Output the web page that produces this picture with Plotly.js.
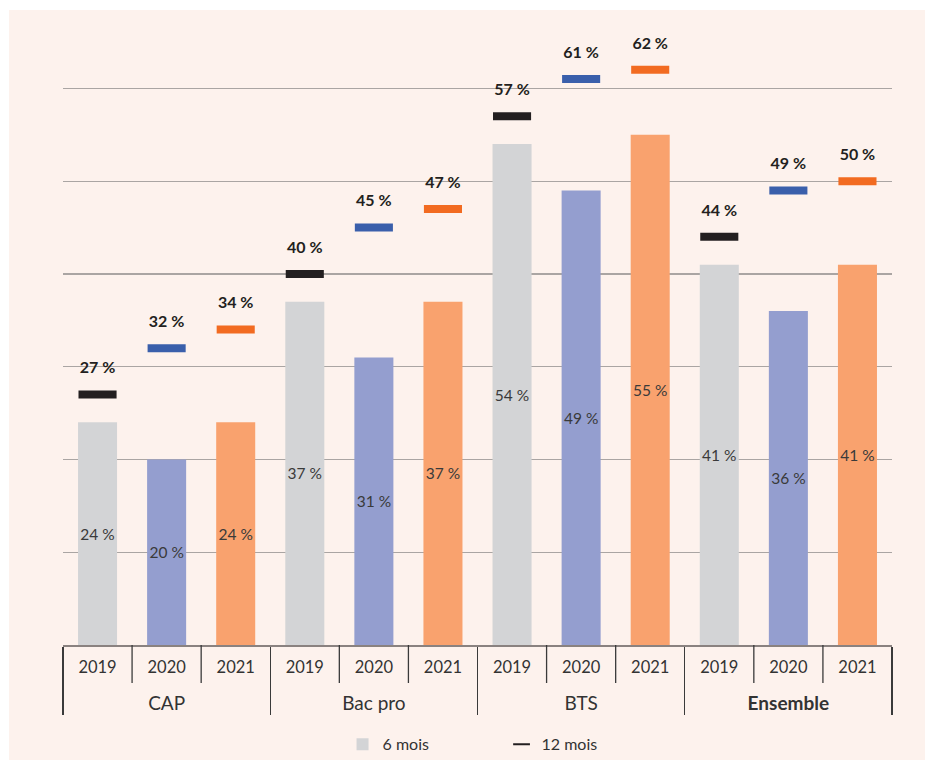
<!DOCTYPE html>
<html>
<head>
<meta charset="utf-8">
<script src="https://cdn.plot.ly/plotly-3.0.1.min.js"></script>
<style>
  html, body { margin: 0; padding: 0; background: #ffffff; }
  #chart { position: absolute; left: 9px; top: 10px; width: 916px; height: 750px; }
</style>
</head>
<body>
<div id="chart"></div>
<script>
// ---- Data ----
var groups = ['CAP', 'Bac pro', 'BTS', 'Ensemble'];
var groupLabels = ['CAP', 'Bac pro', 'BTS', '<b>Ensemble</b>'];
var years = ['2019', '2020', '2021'];
var sixMonths = {
  'CAP': [24, 20, 24],
  'Bac pro': [37, 31, 37],
  'BTS': [54, 49, 55],
  'Ensemble': [41, 36, 41]
};
var twelveMonths = {
  'CAP': [27, 32, 34],
  'Bac pro': [40, 45, 47],
  'BTS': [57, 61, 62],
  'Ensemble': [44, 49, 50]
};
var barColors = ['#d3d4d6', '#949ecf', '#f9a26e'];
var dashColors = ['#231f20', '#3a5fab', '#f26b21'];
var seriesNames = ['6 mois', '12 mois'];

// ---- Build flat arrays ----
var xGroup = [], xYear = [], y6 = [], y12 = [], c6 = [], c12 = [], t6 = [], t12 = [];
groups.forEach(function (g, gi) {
  years.forEach(function (yr, i) {
    xGroup.push('<br><span style="font-size:19px">' + groupLabels[gi] + '</span>'); xYear.push(yr);
    y6.push(sixMonths[g][i]); y12.push(twelveMonths[g][i]);
    c6.push(barColors[i]); c12.push(dashColors[i]);
    t6.push(sixMonths[g][i] + ' %'); t12.push('<b>' + twelveMonths[g][i] + ' %</b>');
  });
});
var nCat = xGroup.length;

// year separators (within groups) below the axis
var shapes = [];
for (var k = 0; k < nCat - 1; k++) {
  if ((k + 1) % years.length === 0) continue; // group boundaries use dividers
  shapes.push({
    type: 'line', xref: 'x', yref: 'paper', x0: k + 0.5, x1: k + 0.5, y0: 0, y1: -0.063,
    line: { color: '#3a3a3a', width: 1.3 }
  });
}

var FONT = 'Lato, "Open Sans", sans-serif';

var traces = [
  {
    type: 'bar', name: seriesNames[0],
    x: [xGroup, xYear], y: y6,
    marker: { color: c6 },
    text: t6, textposition: 'inside', insidetextanchor: 'middle', textangle: 0,
    constraintext: 'none',
    textfont: { family: FONT, size: 15.5, color: '#3a3a3a' },
    hoverinfo: 'skip'
  },
  {
    type: 'scatter', mode: 'markers', name: seriesNames[1],
    x: [xGroup, xYear], y: y12,
    marker: { symbol: 'line-ew', size: 27.2, color: c12, line: { color: c12, width: 8 } },
    cliponaxis: false,
    hoverinfo: 'skip'
  },
  {
    type: 'scatter', mode: 'markers+text', showlegend: false,
    x: [xGroup, xYear], y: y12,
    marker: { size: 26, color: 'rgba(0,0,0,0)' },
    text: t12, textposition: 'top center', cliponaxis: false,
    textfont: { family: FONT, size: 16, color: '#231f20' },
    hoverinfo: 'skip'
  }
];

var layout = {
  width: 916, height: 750,
  paper_bgcolor: '#fdf2ed', plot_bgcolor: '#fdf2ed',
  margin: { l: 54, r: 33, t: 32, b: 115, autoexpand: false },
  font: { family: FONT, color: '#333333' },
  bargap: 0.435,
  showlegend: true,
  shapes: shapes,
  legend: {
    orientation: 'h', x: 0.529, xanchor: 'center',
    yref: 'container', y: 0.021, yanchor: 'middle',
    font: { family: FONT, size: 16, color: '#333333' },
    itemsizing: 'constant',
    bgcolor: 'rgba(0,0,0,0)', entrywidth: 114
  },
  xaxis: {
    type: 'multicategory', range: [-0.5, nCat - 0.5],
    showline: true, linecolor: '#8a8280', linewidth: 1.5,
    ticks: '', ticklabelstandoff: 7,
    showdividers: true, dividercolor: '#3a3a3a', dividerwidth: 1.3,
    tickfont: { family: FONT, size: 16.5, color: '#333333' },
    showgrid: false, zeroline: false, fixedrange: true
  },
  yaxis: {
    range: [0, 65], tickvals: [10, 20, 30, 40, 50, 60],
    showticklabels: false, showgrid: true, gridcolor: '#aaa5a3', gridwidth: 1.2,
    zeroline: false, showline: false, ticks: '', fixedrange: true
  }
};

Plotly.newPlot('chart', traces, layout, { displayModeBar: false, staticPlot: true });
</script>
</body>
</html>
